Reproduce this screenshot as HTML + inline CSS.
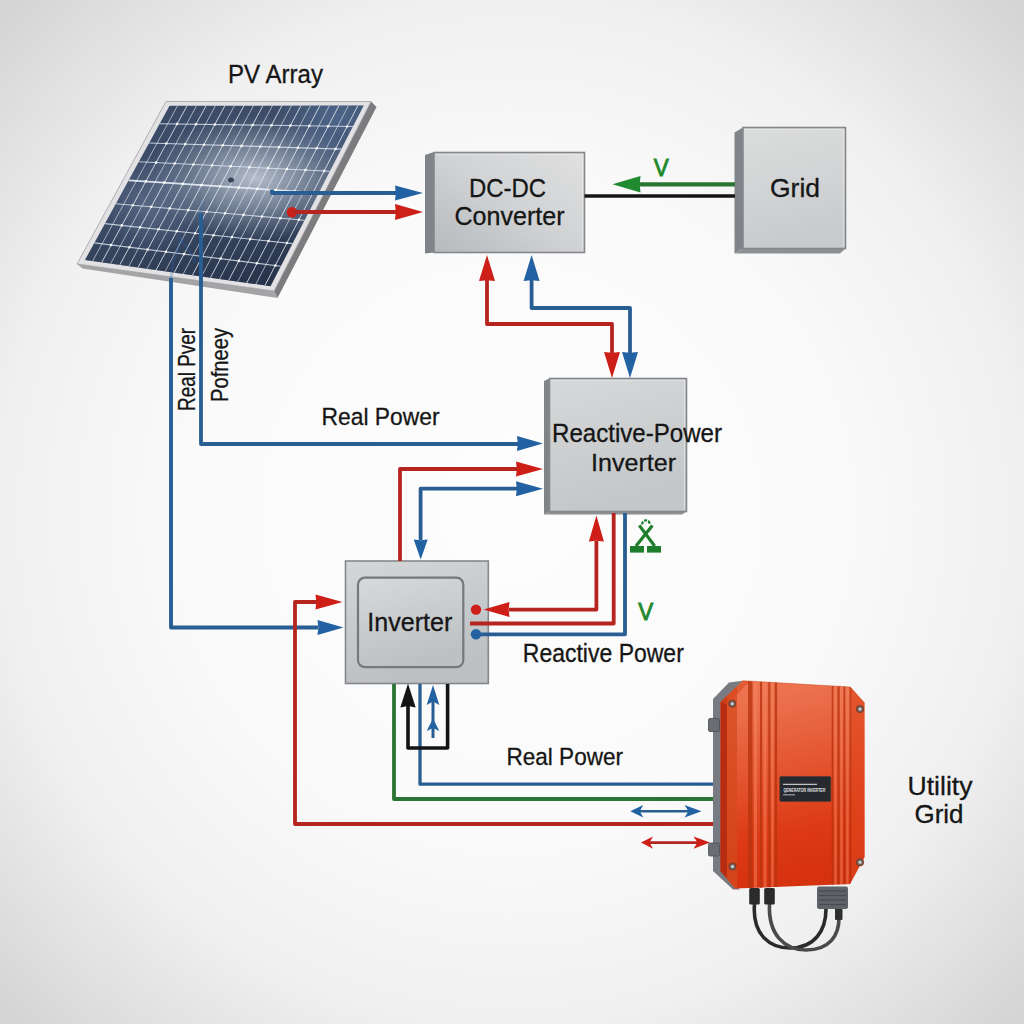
<!DOCTYPE html>
<html><head><meta charset="utf-8"><style>
html,body{margin:0;padding:0;width:1024px;height:1024px;overflow:hidden;background:#efefef;}
svg{display:block;}
</style></head><body>
<svg width="1024" height="1024" viewBox="0 0 1024 1024">
<defs>
<radialGradient id="bgg" cx="512" cy="512" r="724" gradientUnits="userSpaceOnUse">
<stop offset="0" stop-color="#fdfdfd"/><stop offset="0.45" stop-color="#fafafa"/><stop offset="0.707" stop-color="#f0f0f0"/><stop offset="1" stop-color="#d3d3d3"/></radialGradient>
<linearGradient id="cellg" x1="0" y1="0" x2="1" y2="1">
<stop offset="0" stop-color="#3a4a66"/><stop offset="0.5" stop-color="#3e4e6a"/><stop offset="1" stop-color="#28354c"/></linearGradient>
<linearGradient id="shadeg" x1="0" y1="105" x2="0" y2="290" gradientUnits="userSpaceOnUse">
<stop offset="0" stop-color="#1a2438" stop-opacity="0"/><stop offset="0.55" stop-color="#1a2438" stop-opacity="0"/><stop offset="1" stop-color="#1a2438" stop-opacity="0.45"/></linearGradient>
<radialGradient id="reflg" cx="0" cy="0" r="1" gradientUnits="userSpaceOnUse" gradientTransform="translate(255,178) scale(110,62)">
<stop offset="0" stop-color="#bcc4d0" stop-opacity="0.95"/><stop offset="0.5" stop-color="#9aa6b6" stop-opacity="0.6"/><stop offset="1" stop-color="#8894a8" stop-opacity="0"/></radialGradient>
<radialGradient id="reflg3" cx="335" cy="118" r="60" gradientUnits="userSpaceOnUse">
<stop offset="0" stop-color="#5a78a2" stop-opacity="0.55"/><stop offset="1" stop-color="#5a78a2" stop-opacity="0"/></radialGradient>
<radialGradient id="reflg2" cx="150" cy="205" r="50" gradientUnits="userSpaceOnUse">
<stop offset="0" stop-color="#7888a4" stop-opacity="0.45"/><stop offset="1" stop-color="#7888a4" stop-opacity="0"/></radialGradient>
<linearGradient id="boxg" x1="0" y1="0" x2="0.3" y2="1">
<stop offset="0" stop-color="#d6d8d9"/><stop offset="1" stop-color="#c4c7c9"/></linearGradient>
<linearGradient id="boxdc" x1="1" y1="0" x2="0" y2="1">
<stop offset="0" stop-color="#e0e0e0"/><stop offset="0.5" stop-color="#d0d2d4"/><stop offset="1" stop-color="#b6babd"/></linearGradient>
<linearGradient id="boxgr" x1="0" y1="0" x2="0.2" y2="1">
<stop offset="0" stop-color="#dcdddd"/><stop offset="1" stop-color="#c8cbcd"/></linearGradient>
<linearGradient id="boxg3" x1="0" y1="0" x2="0.3" y2="1">
<stop offset="0" stop-color="#d4d6d8"/><stop offset="1" stop-color="#bcc0c2"/></linearGradient>
<linearGradient id="boxg2" x1="0" y1="0" x2="0.3" y2="1">
<stop offset="0" stop-color="#d7d9da"/><stop offset="1" stop-color="#bdc1c3"/></linearGradient>
<linearGradient id="orgg" x1="0" y1="0" x2="0.15" y2="1">
<stop offset="0" stop-color="#ef7854"/><stop offset="0.2" stop-color="#ea6c48"/><stop offset="0.8" stop-color="#dc3914"/><stop offset="1" stop-color="#d63210"/></linearGradient>
</defs>
<rect width="1024" height="1024" fill="url(#bgg)"/>
<g id="panel">
<polygon points="371,101.5 376.5,107 277.5,298 274,291" fill="#7c7c7f"/>
<polygon points="77,264 274,291 277.5,298 82.5,268.5" fill="#a4a4a6"/>
<polygon points="166,101.5 371,101.5 274,291 77,264" fill="#e2e2e4" stroke="#a0a0a2" stroke-width="0.8"/>
<polygon points="169.5,105.8 363.7,105.6 270.5,286.2 85,260" fill="url(#cellg)"/>
<polygon points="169.5,105.8 363.7,105.6 270.5,286.2 85,260" fill="url(#shadeg)"/>
<polygon points="169.5,105.8 363.7,105.6 270.5,286.2 85,260" fill="url(#reflg)"/>
<polygon points="169.5,105.8 363.7,105.6 270.5,286.2 85,260" fill="url(#reflg2)"/>
<polygon points="169.5,105.8 363.7,105.6 270.5,286.2 85,260" fill="url(#reflg3)"/>
<line x1="159.7" y1="123.7" x2="352.9" y2="126.5" stroke="#e4eaf4" stroke-width="1.1" opacity="0.8"/>
<line x1="149.1" y1="143" x2="341.2" y2="149.1" stroke="#e4eaf4" stroke-width="1.1" opacity="0.8"/>
<line x1="138.8" y1="161.8" x2="329.9" y2="171.2" stroke="#e4eaf4" stroke-width="1.1" opacity="0.8"/>
<line x1="128.7" y1="180.3" x2="318.7" y2="192.8" stroke="#e4eaf4" stroke-width="1.8" opacity="0.95"/>
<line x1="115.8" y1="203.7" x2="304.5" y2="220.3" stroke="#e4eaf4" stroke-width="1.1" opacity="0.8"/>
<line x1="104.9" y1="223.6" x2="292.5" y2="243.6" stroke="#e4eaf4" stroke-width="1.1" opacity="0.8"/>
<line x1="94.4" y1="242.9" x2="280.8" y2="266.2" stroke="#e4eaf4" stroke-width="1.1" opacity="0.8"/>
<line x1="177.5" y1="105.8" x2="92.6" y2="261.1" stroke="#eef2f8" stroke-width="1" opacity="0.6"/>
<line x1="187" y1="105.8" x2="101.7" y2="262.4" stroke="#eef2f8" stroke-width="1" opacity="0.8"/>
<line x1="196.5" y1="105.8" x2="110.7" y2="263.6" stroke="#eef2f8" stroke-width="1" opacity="0.6"/>
<line x1="206" y1="105.8" x2="119.8" y2="264.9" stroke="#eef2f8" stroke-width="1" opacity="0.8"/>
<line x1="215.4" y1="105.8" x2="128.9" y2="266.2" stroke="#eef2f8" stroke-width="1" opacity="0.6"/>
<line x1="224.9" y1="105.7" x2="138" y2="267.5" stroke="#eef2f8" stroke-width="1" opacity="0.8"/>
<line x1="234.4" y1="105.7" x2="147" y2="268.8" stroke="#eef2f8" stroke-width="1" opacity="0.6"/>
<line x1="243.9" y1="105.7" x2="156.1" y2="270" stroke="#eef2f8" stroke-width="1" opacity="0.8"/>
<line x1="253.4" y1="105.7" x2="165.2" y2="271.3" stroke="#eef2f8" stroke-width="1" opacity="0.6"/>
<line x1="262.9" y1="105.7" x2="174.2" y2="272.6" stroke="#eef2f8" stroke-width="1" opacity="0.8"/>
<line x1="272.4" y1="105.7" x2="183.3" y2="273.9" stroke="#eef2f8" stroke-width="1" opacity="0.6"/>
<line x1="281.9" y1="105.7" x2="192.4" y2="275.2" stroke="#eef2f8" stroke-width="1" opacity="0.8"/>
<line x1="291.4" y1="105.7" x2="201.5" y2="276.4" stroke="#eef2f8" stroke-width="1" opacity="0.6"/>
<line x1="300.9" y1="105.7" x2="210.5" y2="277.7" stroke="#eef2f8" stroke-width="1" opacity="0.8"/>
<line x1="310.4" y1="105.7" x2="219.6" y2="279" stroke="#eef2f8" stroke-width="1" opacity="0.6"/>
<line x1="319.9" y1="105.6" x2="228.7" y2="280.3" stroke="#eef2f8" stroke-width="1" opacity="0.8"/>
<line x1="329.4" y1="105.6" x2="237.7" y2="281.6" stroke="#eef2f8" stroke-width="1" opacity="0.6"/>
<line x1="338.9" y1="105.6" x2="246.8" y2="282.9" stroke="#eef2f8" stroke-width="1" opacity="0.8"/>
<line x1="348.4" y1="105.6" x2="255.9" y2="284.1" stroke="#eef2f8" stroke-width="1" opacity="0.6"/>
<line x1="357.9" y1="105.6" x2="265" y2="285.4" stroke="#eef2f8" stroke-width="1" opacity="0.8"/>
<circle cx="177.1" cy="123.9" r="1.3" fill="#ffffff" opacity="0.9"/>
<circle cx="196" cy="124.2" r="1.3" fill="#ffffff" opacity="0.9"/>
<circle cx="214.9" cy="124.5" r="1.3" fill="#ffffff" opacity="0.9"/>
<circle cx="233.7" cy="124.8" r="1.3" fill="#ffffff" opacity="0.9"/>
<circle cx="252.6" cy="125.1" r="1.3" fill="#ffffff" opacity="0.9"/>
<circle cx="271.5" cy="125.3" r="1.3" fill="#ffffff" opacity="0.9"/>
<circle cx="290.4" cy="125.6" r="1.3" fill="#ffffff" opacity="0.9"/>
<circle cx="309.3" cy="125.9" r="1.3" fill="#ffffff" opacity="0.9"/>
<circle cx="328.2" cy="126.2" r="1.3" fill="#ffffff" opacity="0.9"/>
<circle cx="347.1" cy="126.5" r="1.3" fill="#ffffff" opacity="0.9"/>
<circle cx="166.4" cy="143.5" r="1.3" fill="#ffffff" opacity="0.9"/>
<circle cx="185.2" cy="144.1" r="1.3" fill="#ffffff" opacity="0.9"/>
<circle cx="204" cy="144.7" r="1.3" fill="#ffffff" opacity="0.9"/>
<circle cx="222.8" cy="145.3" r="1.3" fill="#ffffff" opacity="0.9"/>
<circle cx="241.6" cy="145.9" r="1.3" fill="#ffffff" opacity="0.9"/>
<circle cx="260.3" cy="146.5" r="1.3" fill="#ffffff" opacity="0.9"/>
<circle cx="279.1" cy="147.1" r="1.3" fill="#ffffff" opacity="0.9"/>
<circle cx="297.9" cy="147.7" r="1.3" fill="#ffffff" opacity="0.9"/>
<circle cx="316.7" cy="148.3" r="1.3" fill="#ffffff" opacity="0.9"/>
<circle cx="335.5" cy="148.9" r="1.3" fill="#ffffff" opacity="0.9"/>
<circle cx="156" cy="162.6" r="1.3" fill="#ffffff" opacity="0.9"/>
<circle cx="174.7" cy="163.5" r="1.3" fill="#ffffff" opacity="0.9"/>
<circle cx="193.4" cy="164.5" r="1.3" fill="#ffffff" opacity="0.9"/>
<circle cx="212.1" cy="165.4" r="1.3" fill="#ffffff" opacity="0.9"/>
<circle cx="230.7" cy="166.3" r="1.3" fill="#ffffff" opacity="0.9"/>
<circle cx="249.4" cy="167.2" r="1.3" fill="#ffffff" opacity="0.9"/>
<circle cx="268.1" cy="168.1" r="1.3" fill="#ffffff" opacity="0.9"/>
<circle cx="286.8" cy="169" r="1.3" fill="#ffffff" opacity="0.9"/>
<circle cx="305.5" cy="170" r="1.3" fill="#ffffff" opacity="0.9"/>
<circle cx="324.2" cy="170.9" r="1.3" fill="#ffffff" opacity="0.9"/>
<circle cx="145.8" cy="181.4" r="1.3" fill="#ffffff" opacity="0.9"/>
<circle cx="164.3" cy="182.6" r="1.3" fill="#ffffff" opacity="0.9"/>
<circle cx="182.9" cy="183.9" r="1.3" fill="#ffffff" opacity="0.9"/>
<circle cx="201.5" cy="185.1" r="1.3" fill="#ffffff" opacity="0.9"/>
<circle cx="220.1" cy="186.3" r="1.3" fill="#ffffff" opacity="0.9"/>
<circle cx="238.7" cy="187.5" r="1.3" fill="#ffffff" opacity="0.9"/>
<circle cx="257.3" cy="188.8" r="1.3" fill="#ffffff" opacity="0.9"/>
<circle cx="275.8" cy="190" r="1.3" fill="#ffffff" opacity="0.9"/>
<circle cx="294.4" cy="191.2" r="1.3" fill="#ffffff" opacity="0.9"/>
<circle cx="313" cy="192.5" r="1.3" fill="#ffffff" opacity="0.9"/>
<circle cx="132.8" cy="205.2" r="1.3" fill="#ffffff" opacity="0.9"/>
<circle cx="151.3" cy="206.8" r="1.3" fill="#ffffff" opacity="0.9"/>
<circle cx="169.7" cy="208.4" r="1.3" fill="#ffffff" opacity="0.9"/>
<circle cx="188.2" cy="210.1" r="1.3" fill="#ffffff" opacity="0.9"/>
<circle cx="206.6" cy="211.7" r="1.3" fill="#ffffff" opacity="0.9"/>
<circle cx="225.1" cy="213.3" r="1.3" fill="#ffffff" opacity="0.9"/>
<circle cx="243.5" cy="214.9" r="1.3" fill="#ffffff" opacity="0.9"/>
<circle cx="262" cy="216.5" r="1.3" fill="#ffffff" opacity="0.9"/>
<circle cx="280.4" cy="218.2" r="1.3" fill="#ffffff" opacity="0.9"/>
<circle cx="298.9" cy="219.8" r="1.3" fill="#ffffff" opacity="0.9"/>
<circle cx="121.8" cy="225.4" r="1.3" fill="#ffffff" opacity="0.9"/>
<circle cx="140.1" cy="227.4" r="1.3" fill="#ffffff" opacity="0.9"/>
<circle cx="158.5" cy="229.3" r="1.3" fill="#ffffff" opacity="0.9"/>
<circle cx="176.8" cy="231.3" r="1.3" fill="#ffffff" opacity="0.9"/>
<circle cx="195.2" cy="233.2" r="1.3" fill="#ffffff" opacity="0.9"/>
<circle cx="213.5" cy="235.2" r="1.3" fill="#ffffff" opacity="0.9"/>
<circle cx="231.9" cy="237.1" r="1.3" fill="#ffffff" opacity="0.9"/>
<circle cx="250.2" cy="239.1" r="1.3" fill="#ffffff" opacity="0.9"/>
<circle cx="268.5" cy="241" r="1.3" fill="#ffffff" opacity="0.9"/>
<circle cx="286.9" cy="243" r="1.3" fill="#ffffff" opacity="0.9"/>
<circle cx="111.1" cy="245" r="1.3" fill="#ffffff" opacity="0.9"/>
<circle cx="129.4" cy="247.3" r="1.3" fill="#ffffff" opacity="0.9"/>
<circle cx="147.6" cy="249.5" r="1.3" fill="#ffffff" opacity="0.9"/>
<circle cx="165.9" cy="251.8" r="1.3" fill="#ffffff" opacity="0.9"/>
<circle cx="184.1" cy="254.1" r="1.3" fill="#ffffff" opacity="0.9"/>
<circle cx="202.3" cy="256.4" r="1.3" fill="#ffffff" opacity="0.9"/>
<circle cx="220.6" cy="258.6" r="1.3" fill="#ffffff" opacity="0.9"/>
<circle cx="238.8" cy="260.9" r="1.3" fill="#ffffff" opacity="0.9"/>
<circle cx="257" cy="263.2" r="1.3" fill="#ffffff" opacity="0.9"/>
<circle cx="275.3" cy="265.5" r="1.3" fill="#ffffff" opacity="0.9"/>
<linearGradient id="wireg" x1="0" y1="195" x2="0" y2="285" gradientUnits="userSpaceOnUse"><stop offset="0" stop-color="#2a66b0" stop-opacity="0"/><stop offset="0.35" stop-color="#2a66b0" stop-opacity="0.45"/><stop offset="1" stop-color="#2a66b0" stop-opacity="0.8"/></linearGradient>
<polyline points="201,285 201,195" fill="none" stroke="url(#wireg)" stroke-width="3.4"/>
<polyline points="178,236 190,252 196,262" fill="none" stroke="#2a5a9a" stroke-width="3" opacity="0.3"/>
<polyline points="171,279 173,262 181,240" fill="none" stroke="#2a66b0" stroke-width="3" opacity="0.25"/>
<ellipse cx="231" cy="180" rx="3" ry="2.5" fill="#1e2a3e" opacity="0.8"/>
</g>
<polygon points="425,155 434,152 434,252.5 425,253.5" fill="#808387"/><rect x="434" y="152.5" width="150.5" height="100" fill="url(#boxdc)" stroke="#85878a" stroke-width="1.6"/><polyline points="436,154.5 582.5,154.5 582.5,250.5" fill="none" stroke="#ededed" stroke-width="1.2" opacity="0.5"/>
<polygon points="734.5,132.5 743,127.5 743,248.5 734.5,253.5" fill="#808387"/><polygon points="734.5,253.5 743,248.5 845.5,248.5 840,253.5" fill="#8c8f93"/><rect x="743" y="127.5" width="102.5" height="121" fill="url(#boxgr)" stroke="#85878a" stroke-width="1.6"/><polyline points="745,129.5 843.5,129.5 843.5,246.5" fill="none" stroke="#ededed" stroke-width="1.2" opacity="0.5"/>
<polygon points="544,381 549.5,378.5 549.5,511.5 544,514.5" fill="#808387"/><polygon points="544,514.5 549.5,511.5 686.5,511.5 682,514.5" fill="#8c8f93"/><rect x="549.5" y="378.5" width="137" height="133" fill="url(#boxg)" stroke="#85878a" stroke-width="1.6"/><polyline points="551.5,380.5 684.5,380.5 684.5,509.5" fill="none" stroke="#ededed" stroke-width="1.2" opacity="0.5"/>
<rect x="345.5" y="561" width="142.8" height="122.5" fill="url(#boxg3)" stroke="#85878a" stroke-width="1.6"/>
<rect x="358" y="577.6" width="105.3" height="89.6" rx="7" fill="url(#boxg2)" stroke="#74797d" stroke-width="2.2"/>
<polyline points="272,189.5 272,193 397,193" fill="none" stroke="#285e92" stroke-width="3.8" stroke-linejoin="round"/>
<polygon points="423,193 395,200.5 395.8,193 395,185.5" fill="#2262a2"/>
<circle cx="292" cy="212.2" r="5.2" fill="#cd1f17"/>
<polyline points="292,212 397,212" fill="none" stroke="#b5241f" stroke-width="3.8" stroke-linejoin="round"/>
<polygon points="423,212 395,220 395.8,212 395,204" fill="#cd1f17"/>
<polyline points="584.5,196 735,196" fill="none" stroke="#141414" stroke-width="3.4" stroke-linejoin="round"/>
<polyline points="735,184.3 638,184.3" fill="none" stroke="#2a7434" stroke-width="4.2" stroke-linejoin="round"/>
<polygon points="612.5,184.3 640.5,176 639.7,184.3 640.5,192.6" fill="#1f8a2e"/>
<polyline points="487,279 487,324 612,324 612,354" fill="none" stroke="#b5241f" stroke-width="3.8" stroke-linejoin="round"/>
<polygon points="487,255 495,281 487,280.2 479,281" fill="#cd1f17"/>
<polygon points="612,378 604,352 612,352.8 620,352" fill="#cd1f17"/>
<polyline points="531.6,279 531.6,308 630,308 630,354" fill="none" stroke="#285e92" stroke-width="3.8" stroke-linejoin="round"/>
<polygon points="531.6,255 539.6,281 531.6,280.2 523.6,281" fill="#2262a2"/>
<polygon points="630,378 622,352 630,352.8 638,352" fill="#2262a2"/>
<polyline points="171,278 171,627.5 318,627.5" fill="none" stroke="#285e92" stroke-width="3.9" stroke-linejoin="round"/>
<polygon points="343.5,627.5 317.5,635 318.3,627.5 317.5,620" fill="#2262a2"/>
<polyline points="201,214 201,444 518,444" fill="none" stroke="#285e92" stroke-width="3.8" stroke-linejoin="round"/>
<polygon points="543,443.5 517,451 517.8,443.5 517,436" fill="#2262a2"/>
<polyline points="400,561 400,469 517,469" fill="none" stroke="#b5241f" stroke-width="3.8" stroke-linejoin="round"/>
<polygon points="543,469 516,476.5 516.8,469 516,461.5" fill="#cd1f17"/>
<polyline points="420.6,540 420.6,488.7 517,488.7" fill="none" stroke="#285e92" stroke-width="3.8" stroke-linejoin="round"/>
<polygon points="543,488.7 516,496.2 516.8,488.7 516,481.2" fill="#2262a2"/>
<polygon points="420.7,559.5 413.7,539.5 420.7,540.3 427.7,539.5" fill="#2262a2"/>
<polyline points="317,602 295,602 295,824 716,824" fill="none" stroke="#b5241f" stroke-width="3.8" stroke-linejoin="round"/>
<polygon points="342.5,602 315.5,609.5 316.3,602 315.5,594.5" fill="#cd1f17"/>
<polyline points="394,684 394,799 716,799" fill="none" stroke="#2a7434" stroke-width="3.8" stroke-linejoin="round"/>
<polyline points="420,684 420,784.2 716,784.2" fill="none" stroke="#285e92" stroke-width="3.3" stroke-linejoin="round"/>
<polyline points="408,706 408,748 447.6,748 447.6,684" fill="none" stroke="#141414" stroke-width="3.6" stroke-linejoin="round"/>
<polygon points="408,683.5 415.7,707.5 408,706 400.3,707.5" fill="#141414"/>
<polyline points="433,697 433,738" fill="none" stroke="#285e92" stroke-width="3" stroke-linejoin="round"/>
<polygon points="433,685 439.3,705 433,701.5 426.7,705" fill="#2262a2"/>
<polygon points="433,718.5 439.3,731 433,728 426.7,731" fill="#2262a2"/>
<polyline points="596.4,541 596.4,609.6 509,609.6" fill="none" stroke="#b5241f" stroke-width="3.8" stroke-linejoin="round"/>
<polygon points="596.4,515.5 603.9,541.5 596.4,540.7 588.9,541.5" fill="#cd1f17"/>
<polygon points="483.5,609.6 509.5,602.1 508.7,609.6 509.5,617.1" fill="#cd1f17"/>
<circle cx="476" cy="609.6" r="5.2" fill="#cd1f17"/>
<polyline points="613.7,513 613.7,623.5 470,623.5" fill="none" stroke="#b5241f" stroke-width="3.8" stroke-linejoin="round"/>
<polyline points="625,513 625,634.3 476,634.3" fill="none" stroke="#285e92" stroke-width="3.8" stroke-linejoin="round"/>
<circle cx="476" cy="634.3" r="5.2" fill="#2262a2"/>
<g fill="none" stroke="#1e7e2c" stroke-width="3.2" stroke-linecap="butt">
<line x1="639.3" y1="525.4" x2="654.6" y2="546"/><line x1="652.4" y1="525.4" x2="636" y2="546"/>
<path d="M642.5,524.5 a3.6,3.2 0 1 1 7,-0.5" stroke-width="2.2" stroke-dasharray="3 1.2"/>
</g>
<rect x="630" y="546" width="14" height="6.6" fill="#1e7e2c"/><rect x="647" y="546" width="14" height="6.6" fill="#1e7e2c"/>
<polyline points="638,811.2 690,811.2" fill="none" stroke="#285e92" stroke-width="2.6" stroke-linejoin="round"/>
<polygon points="630.3,811.2 643.3,804.9 639.8,811.2 643.3,817.5" fill="#2262a2"/>
<polygon points="701.5,811.2 684.5,817.5 688.5,811.2 684.5,804.9" fill="#2262a2"/>
<polyline points="648,842.6 700,842.6" fill="none" stroke="#b5241f" stroke-width="2.6" stroke-linejoin="round"/>
<polygon points="641,842.6 653,836.4 649.5,842.6 653,848.8" fill="#cd1f17"/>
<polygon points="710,842.6 693.5,848.8 697.5,842.6 693.5,836.4" fill="#cd1f17"/>
<g id="device">
<polygon points="729,682.5 713,699 713,871 733,889.5 740,889.5 721,871 721,702 743,680.7" fill="#787c82"/>
<rect x="708.5" y="718.5" width="11" height="13" rx="1.5" fill="#6a6e73" stroke="#4a4d51" stroke-width="0.8"/>
<rect x="708.5" y="843" width="11" height="13" rx="1.5" fill="#6a6e73" stroke="#4a4d51" stroke-width="0.8"/>
<path d="M754.5,904 C752,935 770,948 790,948 C815,948 826,930 826,909" fill="none" stroke="#2a2a2a" stroke-width="3.6"/>
<path d="M769.5,904 C768,935 785,950 806,950 C830,950 839,935 839,918" fill="none" stroke="#4a4a4a" stroke-width="3.6"/>
<rect x="749.2" y="888" width="10.6" height="16.5" rx="1.5" fill="#2b2b2b"/>
<rect x="764.2" y="888" width="10.6" height="16.5" rx="1.5" fill="#2b2b2b"/>
<rect x="835" y="906" width="7.5" height="14" rx="1" fill="#2f2f2f"/>
<rect x="817" y="886.5" width="31" height="22.5" rx="2" fill="#5f6368"/>
<line x1="819" y1="891" x2="846" y2="891" stroke="#474a4e" stroke-width="1.2"/>
<line x1="819" y1="895.5" x2="846" y2="895.5" stroke="#474a4e" stroke-width="1.2"/>
<line x1="819" y1="900" x2="846" y2="900" stroke="#474a4e" stroke-width="1.2"/>
<line x1="819" y1="904.5" x2="846" y2="904.5" stroke="#474a4e" stroke-width="1.2"/>
<clipPath id="bodyclip"><polygon points="743,680.7 850.3,687 864.5,703 864.5,857 850,884 735,888.6 720.5,871 720.5,702"/></clipPath>
<polygon points="743,680.7 850.3,687 864.5,703 864.5,857 850,884 735,888.6 720.5,871 720.5,702" fill="url(#orgg)"/>
<g clip-path="url(#bodyclip)">
<rect x="720" y="670" width="7" height="230" fill="#b82c12"/>
<rect x="727" y="670" width="10" height="230" fill="#d44a1e" opacity="0.75"/>
<polygon points="720.5,702 743,680.7 750,681 727,705" fill="#d94a1e" opacity="0.6"/>
<rect x="851.3" y="670" width="14" height="230" fill="#e0461c" opacity="0.6"/>
<rect x="748" y="670" width="4.5" height="230" fill="#b8340e" opacity="0.8"/>
<rect x="760" y="670" width="2" height="230" fill="#b8340e" opacity="0.8"/>
<rect x="768.3" y="670" width="2" height="230" fill="#b8340e" opacity="0.8"/>
<rect x="774.7" y="670" width="2.4" height="230" fill="#b8340e" opacity="0.8"/>
<rect x="831.7" y="670" width="1.6" height="230" fill="#b8340e" opacity="0.8"/>
<rect x="837.6" y="670" width="2" height="230" fill="#b8340e" opacity="0.8"/>
<rect x="843.5" y="670" width="1.6" height="230" fill="#b8340e" opacity="0.8"/>
<rect x="849.7" y="670" width="1.6" height="230" fill="#b8340e" opacity="0.8"/>
<rect x="754" y="670" width="3" height="230" fill="#f58560" opacity="0.5"/>
<rect x="763.5" y="670" width="3" height="230" fill="#f58560" opacity="0.5"/>
<rect x="771.2" y="670" width="2.5" height="230" fill="#f58560" opacity="0.5"/>
<rect x="834.2" y="670" width="2.5" height="230" fill="#f58560" opacity="0.5"/>
<rect x="840.2" y="670" width="2.5" height="230" fill="#f58560" opacity="0.5"/>
<rect x="846.2" y="670" width="2.5" height="230" fill="#f58560" opacity="0.5"/>
</g>
<polyline points="720.5,702 743,680.7 850.3,687 864.5,703" fill="none" stroke="#c5451e" stroke-width="0.8" opacity="0.6"/>
<circle cx="732.2" cy="703.7" r="4" fill="#8a3a22"/><circle cx="732.2" cy="703.7" r="2.9" fill="#6a6466"/><circle cx="732.2" cy="703.7" r="1.5" fill="#d8d4d2"/>
<circle cx="860" cy="709" r="4" fill="#8a3a22"/><circle cx="860" cy="709" r="2.9" fill="#6a6466"/><circle cx="860" cy="709" r="1.5" fill="#d8d4d2"/>
<circle cx="732.5" cy="866.6" r="4" fill="#8a3a22"/><circle cx="732.5" cy="866.6" r="2.9" fill="#6a6466"/><circle cx="732.5" cy="866.6" r="1.5" fill="#d8d4d2"/>
<circle cx="860" cy="862.2" r="4" fill="#8a3a22"/><circle cx="860" cy="862.2" r="2.9" fill="#6a6466"/><circle cx="860" cy="862.2" r="1.5" fill="#d8d4d2"/>
<rect x="779.8" y="776.5" width="51" height="25" rx="1.2" fill="#262a2f" stroke="#5a3a30" stroke-width="0.8"/>
<rect x="783" y="783.8" width="34" height="1" fill="#e8e8e8"/>
<text x="783.4" y="792" font-family="&quot;Liberation Sans&quot;, sans-serif" font-weight="bold" font-size="6" textLength="42" lengthAdjust="spacingAndGlyphs" fill="#e2e2e2">QENERATOR INVERTER</text>
<rect x="783" y="794.2" width="12" height="1.2" fill="#bfc2c6" opacity="0.8"/>
</g>
<g font-family="&quot;Liberation Sans&quot;, sans-serif" stroke="#161616" stroke-width="0.3"><text x="228" y="82.9" font-size="25.5" textLength="95" lengthAdjust="spacingAndGlyphs" fill="#161616">PV Array</text><text x="469" y="196.6" font-size="26.5" textLength="77" lengthAdjust="spacingAndGlyphs" fill="#161616">DC-DC</text><text x="454.5" y="225.3" font-size="25.5" textLength="110" lengthAdjust="spacingAndGlyphs" fill="#161616">Converter</text><text x="770" y="197.4" font-size="26.5" textLength="50" lengthAdjust="spacingAndGlyphs" fill="#161616">Grid</text><text x="653.8" y="175.5" font-size="23" textLength="15" lengthAdjust="spacingAndGlyphs" fill="#1f8a2e" stroke="#1f8a2e" stroke-width="0.9">V</text><text x="321.5" y="425.2" font-size="24.5" textLength="118" lengthAdjust="spacingAndGlyphs" fill="#161616">Real Power</text><text x="552" y="442" font-size="25" textLength="170" lengthAdjust="spacingAndGlyphs" fill="#161616">Reactive-Power</text><text x="591" y="470.9" font-size="24" textLength="85" lengthAdjust="spacingAndGlyphs" fill="#161616">Inverter</text><text x="367.3" y="630.7" font-size="25.5" textLength="85" lengthAdjust="spacingAndGlyphs" fill="#161616">Inverter</text><text x="522.8" y="661.5" font-size="25.5" textLength="161" lengthAdjust="spacingAndGlyphs" fill="#161616">Reactive Power</text><text x="638.2" y="620" font-size="24" textLength="15" lengthAdjust="spacingAndGlyphs" fill="#1f8a2e" stroke="#1f8a2e" stroke-width="0.9">V</text><text x="506.5" y="764.5" font-size="24.5" textLength="116.5" lengthAdjust="spacingAndGlyphs" fill="#161616">Real Power</text><text x="907.5" y="795" font-size="25.5" textLength="65" lengthAdjust="spacingAndGlyphs" fill="#161616">Utility</text><text x="914.5" y="822.7" font-size="25.5" textLength="49" lengthAdjust="spacingAndGlyphs" fill="#161616">Grid</text><g transform="translate(195.2,410.9) rotate(-90)"><text x="0" y="0" font-size="24" textLength="83" lengthAdjust="spacingAndGlyphs" fill="#161616">Real Pver</text></g><g transform="translate(227.5,402) rotate(-90)"><text x="0" y="0" font-size="24" textLength="74" lengthAdjust="spacingAndGlyphs" fill="#161616">Pofneey</text></g></g>
</svg>
</body></html>
